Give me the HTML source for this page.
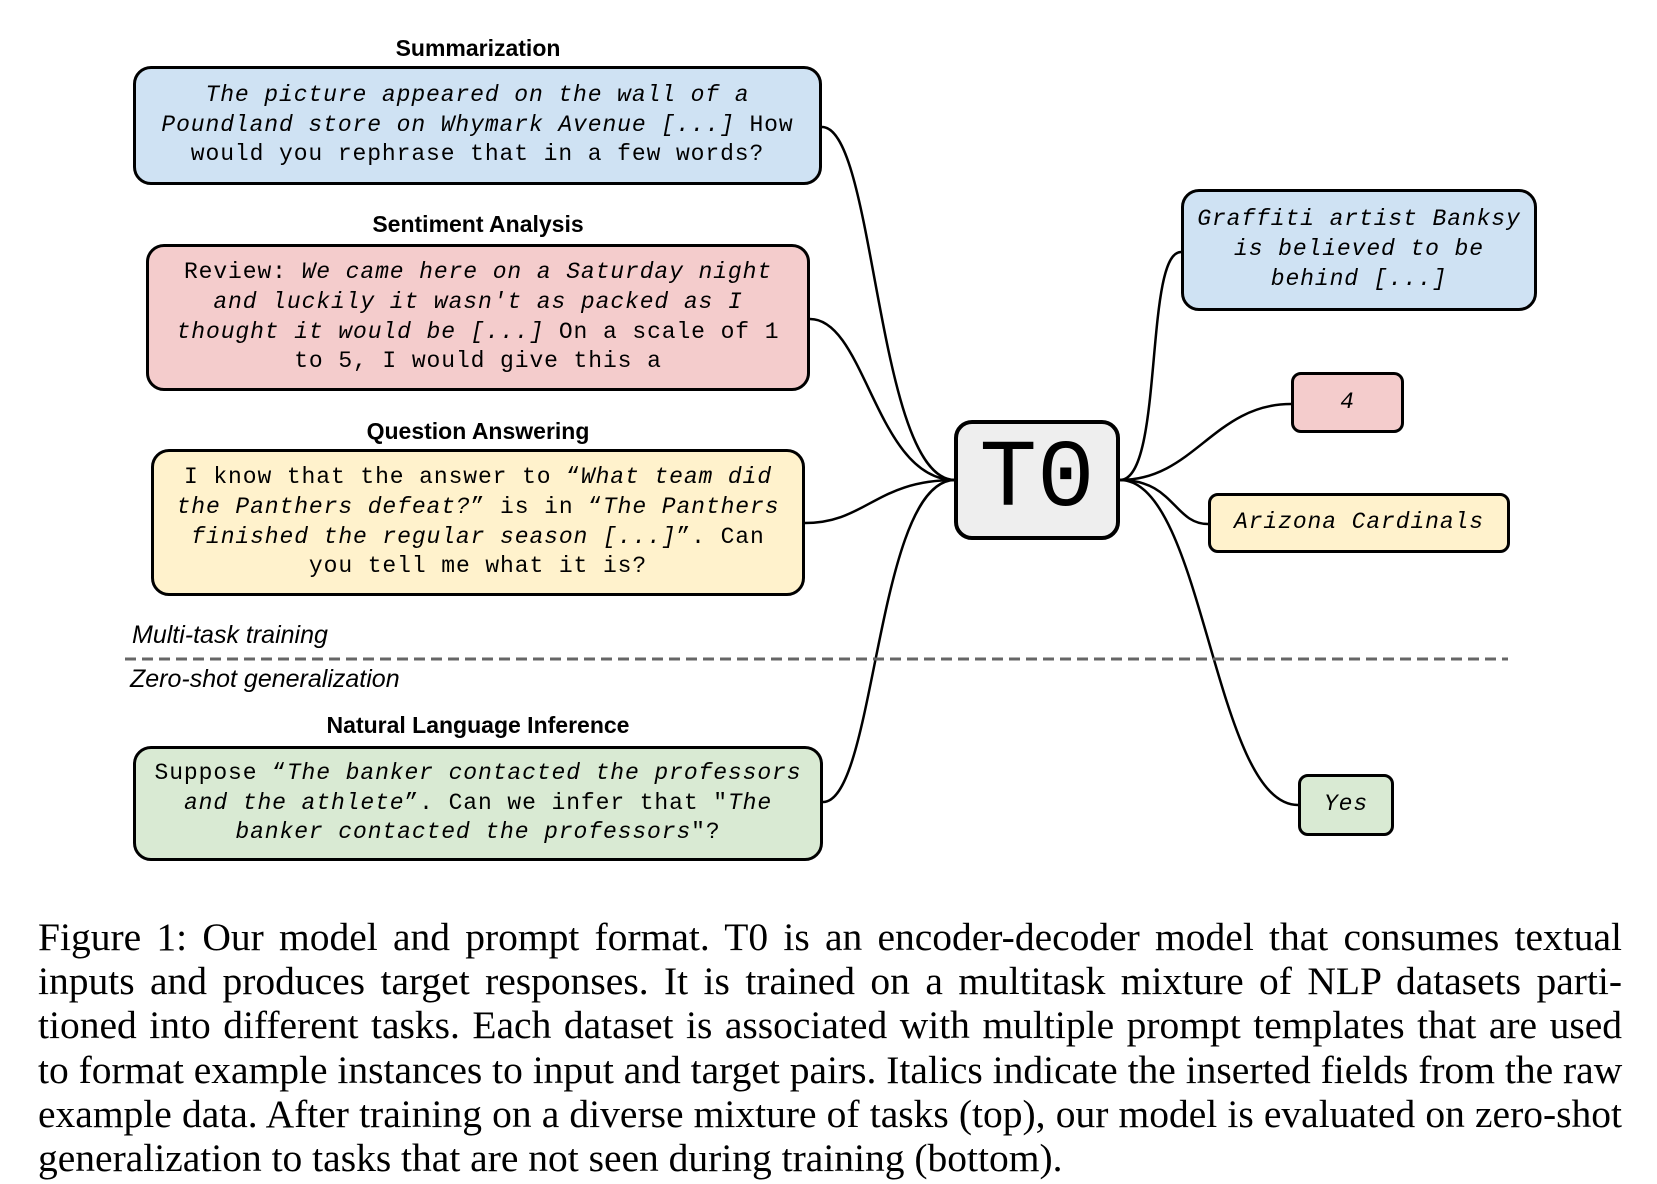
<!DOCTYPE html>
<html><head><meta charset="utf-8"><style>
html,body{margin:0;padding:0;background:#fff;}
body{width:1657px;height:1184px;position:relative;overflow:hidden;}
.t{position:absolute;font-family:"Liberation Sans",sans-serif;font-weight:bold;font-size:23px;text-align:center;transform:translateX(-50%);white-space:nowrap;line-height:1;}
.b{position:absolute;box-sizing:border-box;border:3px solid #000;border-radius:18px;display:flex;align-items:center;justify-content:center;text-align:center;font-family:"Liberation Mono",monospace;font-size:23px;letter-spacing:0.9px;line-height:29.7px;white-space:nowrap;}
.b i{font-style:italic;}
.lab{position:absolute;font-family:"Liberation Sans",sans-serif;font-style:italic;font-size:25px;line-height:1;}
.cap{position:absolute;left:38px;width:1584px;font-family:"Liberation Serif",serif;font-size:39.5px;line-height:44.2px;}
.cap div{text-align:justify;text-align-last:justify;white-space:nowrap;}
.cap div.last{text-align-last:left;}
</style></head><body>
<svg width="1657" height="1184" style="position:absolute;left:0;top:0">
<g fill="none" stroke="#000" stroke-width="2.5">
<path d="M822,127 C876,127 876,480 955,480"/>
<path d="M810,319 C866,319 876,480 955,480"/>
<path d="M805,523 C866,523 876,480 955,480"/>
<path d="M823,802 C876,802 876,480 955,480"/>
<path d="M1120,480 C1164,480 1144,252 1181,252"/>
<path d="M1120,480 C1194,480 1214,404 1291,404"/>
<path d="M1120,480 C1174,480 1174,524 1208,524"/>
<path d="M1120,480 C1204,480 1214,805 1298,805"/>
</g>
<line x1="125" y1="659" x2="1508" y2="659" stroke="#666" stroke-width="3" stroke-dasharray="11,6"/>
</svg>
<div class="t" style="left:478px;top:37px">Summarization</div>
<div class="b" style="left:133px;top:66px;width:689px;height:119px;background:#cfe2f3"><div><i>The picture appeared on the wall of a</i><br><i>Poundland store on Whymark Avenue [...]</i> How<br>would you rephrase that in a few words?</div></div>
<div class="t" style="left:478px;top:213px">Sentiment Analysis</div>
<div class="b" style="left:146px;top:244px;width:664px;height:147px;background:#f4cccc"><div>Review: <i>We came here on a Saturday night</i><br><i>and luckily it wasn't as packed as I</i><br><i>thought it would be [...]</i> On a scale of 1<br>to 5, I would give this a</div></div>
<div class="t" style="left:478px;top:420px">Question Answering</div>
<div class="b" style="left:151px;top:449px;width:654px;height:147px;background:#fff2cc"><div>I know that the answer to “<i>What team did</i><br><i>the Panthers defeat?</i>” is in “<i>The Panthers</i><br><i>finished the regular season [...]</i>”. Can<br>you tell me what it is?</div></div>
<div class="lab" style="left:132px;top:623px">Multi-task training</div>
<div class="lab" style="left:130px;top:667px">Zero-shot generalization</div>
<div class="t" style="left:478px;top:714px">Natural Language Inference</div>
<div class="b" style="left:133px;top:746px;width:690px;height:115px;background:#d9ead3"><div>Suppose “<i>The banker contacted the professors</i><br><i>and the athlete</i>”. Can we infer that "<i>The</i><br><i>banker contacted the professors</i>"?</div></div>
<div class="b" style="left:954px;top:420px;width:166px;height:120px;background:#eeeeee;border-width:4px;font-size:96px;letter-spacing:0;line-height:1">T0</div>
<div class="b" style="left:1181px;top:189px;width:356px;height:122px;background:#cfe2f3"><div><i>Graffiti artist Banksy</i><br><i>is believed to be</i><br><i>behind [...]</i></div></div>
<div class="b" style="left:1291px;top:372px;width:113px;height:61px;background:#f4cccc;border-radius:10px"><i>4</i></div>
<div class="b" style="left:1208px;top:493px;width:302px;height:60px;background:#fff2cc;border-radius:10px"><i>Arizona Cardinals</i></div>
<div class="b" style="left:1298px;top:774px;width:96px;height:62px;background:#d9ead3;border-radius:10px"><i>Yes</i></div>
<div class="cap" style="top:915px">
<div>Figure 1: Our model and prompt format. T0 is an encoder-decoder model that consumes textual</div>
<div>inputs and produces target responses. It is trained on a multitask mixture of NLP datasets parti-</div>
<div>tioned into different tasks. Each dataset is associated with multiple prompt templates that are used</div>
<div>to format example instances to input and target pairs. Italics indicate the inserted fields from the raw</div>
<div>example data. After training on a diverse mixture of tasks (top), our model is evaluated on zero-shot</div>
<div class="last">generalization to tasks that are not seen during training (bottom).</div>
</div>
</body></html>
